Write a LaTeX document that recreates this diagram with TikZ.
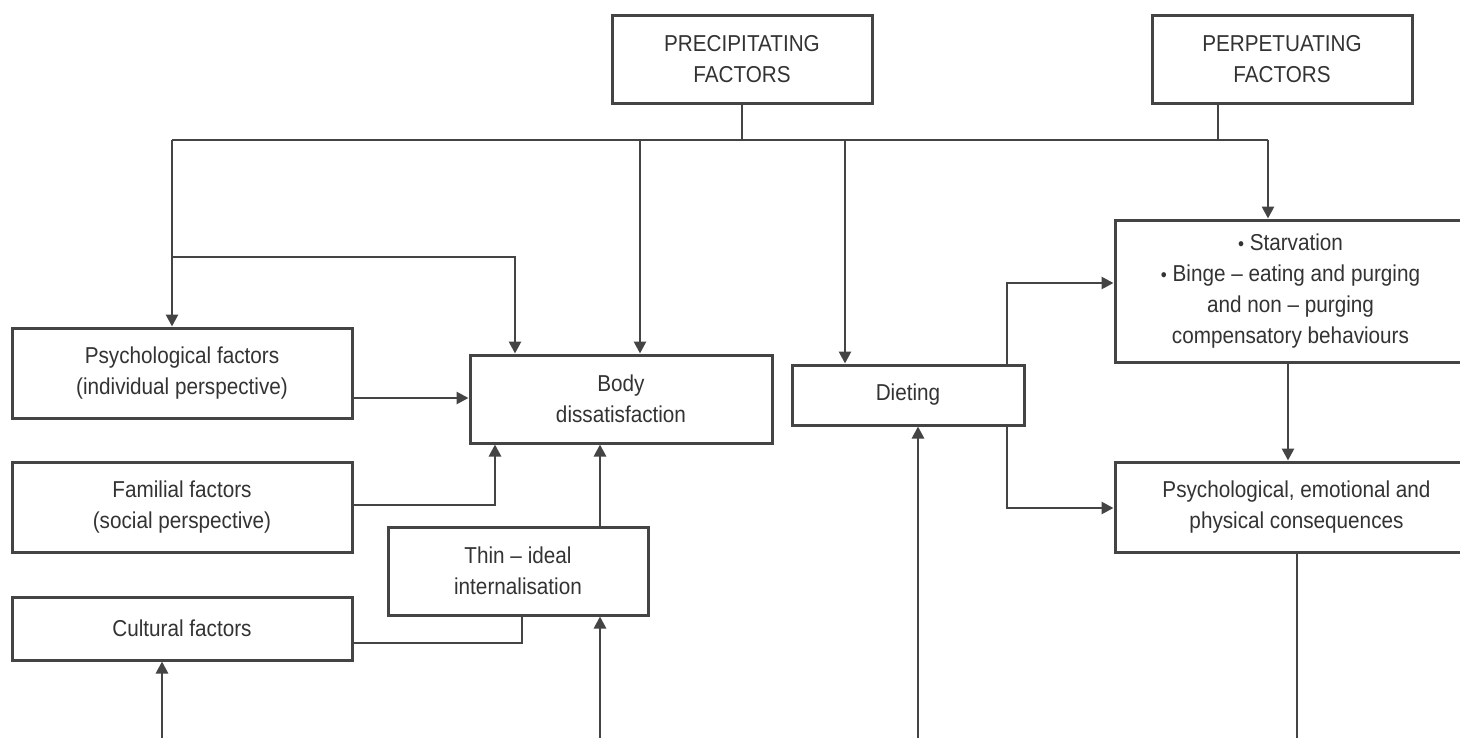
\documentclass[tikz,border=0pt]{standalone}
\usepackage{fontspec}
\setmainfont[FakeStretch=0.9]{Liberation Sans}
\usetikzlibrary{arrows.meta,calc}
\definecolor{linec}{HTML}{444444}
\definecolor{textc}{HTML}{333333}
\begin{document}
\begin{tikzpicture}[x=1pt,y=-1pt,
  box/.style={draw=linec,line width=3pt,fill=white,text=textc,align=center,inner sep=0pt,
    font=\fontsize{23}{31}\selectfont},
  conn/.style={draw=linec,line width=2.7pt},
  arr/.style={conn,-{Triangle[length=12pt,width=12pt]}}]
\useasboundingbox (0,0) rectangle (1460,737);
\clip (0,0) rectangle (1460,737);
\fill[white] (0,0) rectangle (1460,737);
% boxes: (x1,y1)-(x2,y2)
\newcommand{\bx}[6]{\node[box,minimum width={#4-#2},minimum height={#5-#3}] (#1) at ({(#2+#4)/2},{(#3+#5)/2}) {#6};}
\newcommand{\blt}{{\fontsize{19}{31}\selectfont •}}
\bx{prec}{612}{15}{872}{103}{PRECIPITATING\\FACTORS}
\bx{perp}{1152}{15}{1412}{103}{PERPETUATING\\FACTORS}
\bx{starv}{1115}{220}{1466}{362}{\blt{} Starvation\\\blt{} Binge -- eating and purging\\and non -- purging\\compensatory behaviours}
\bx{psych}{12}{328}{352}{418}{Psychological factors\\(individual perspective)}
\bx{body}{470}{355}{772}{443}{Body\\dissatisfaction}
\bx{diet}{792}{365}{1024}{425}{Dieting}
\bx{fam}{12}{462}{352}{552}{Familial factors\\(social perspective)}
\bx{emo}{1115}{462}{1478}{552}{Psychological, emotional and\\physical consequences}
\bx{thin}{388}{527}{648}{615}{Thin -- ideal\\internalisation}
\bx{cult}{12}{597}{352}{660}{Cultural factors}
% helper coordinates
\coordinate (bus) at (0,140);
\coordinate (busL) at (172,140);
\coordinate (busR) at (1268,140);
\coordinate (branch) at (172,257);
\coordinate (brR) at (515,257);
\coordinate (x640) at (640,0);
\coordinate (x845) at (845,0);
\coordinate (x1218) at (1218,0);
\coordinate (x495) at (495,0);
\coordinate (x522) at (522,0);
\coordinate (x1007) at (1007,0);
\coordinate (x1288) at (1288,0);
\coordinate (y283) at (0,283);
\coordinate (y508) at (0,508);
\coordinate (botL) at (162,740);
\coordinate (botM) at (600,740);
\coordinate (botD) at (918,740);
\coordinate (botE) at (1297,740);
% top bus
\draw[conn] (prec.south) -- (prec.south |- bus);
\draw[conn] (x1218 |- perp.south) -- (x1218 |- bus);
\draw[conn] (busL) -- (busR);
\draw[arr] (busL) -- (busL |- psych.north);
\draw[arr] (branch) -- (brR) -- (brR |- body.north);
\draw[arr] (x640 |- bus) -- (x640 |- body.north);
\draw[arr] (x845 |- bus) -- (x845 |- diet.north);
\draw[arr] (busR) -- (busR |- starv.north);
% left side
\draw[arr] (psych.east |- 0,398) -- (body.west |- 0,398);
\draw[arr] (fam.east |- 0,505) -- (x495 |- 0,505) -- (x495 |- body.south);
\draw[arr] (botM |- thin.north) -- (botM |- body.south);
\draw[conn] (cult.east |- 0,643) -- (x522 |- 0,643) -- (x522 |- thin.south);
\draw[arr] (botL) -- (botL |- cult.south);
\draw[arr] (botM) -- (botM |- thin.south);
\draw[arr] (botD) -- (botD |- diet.south);
% right side
\draw[arr] (x1007 |- diet.north) -- (x1007 |- y283) -- (starv.west |- y283);
\draw[arr] (x1007 |- diet.south) -- (x1007 |- y508) -- (emo.west |- y508);
\draw[arr] (x1288 |- starv.south) -- (x1288 |- emo.north);
\draw[conn] (botE |- emo.south) -- (botE);
\end{tikzpicture}
\end{document}
